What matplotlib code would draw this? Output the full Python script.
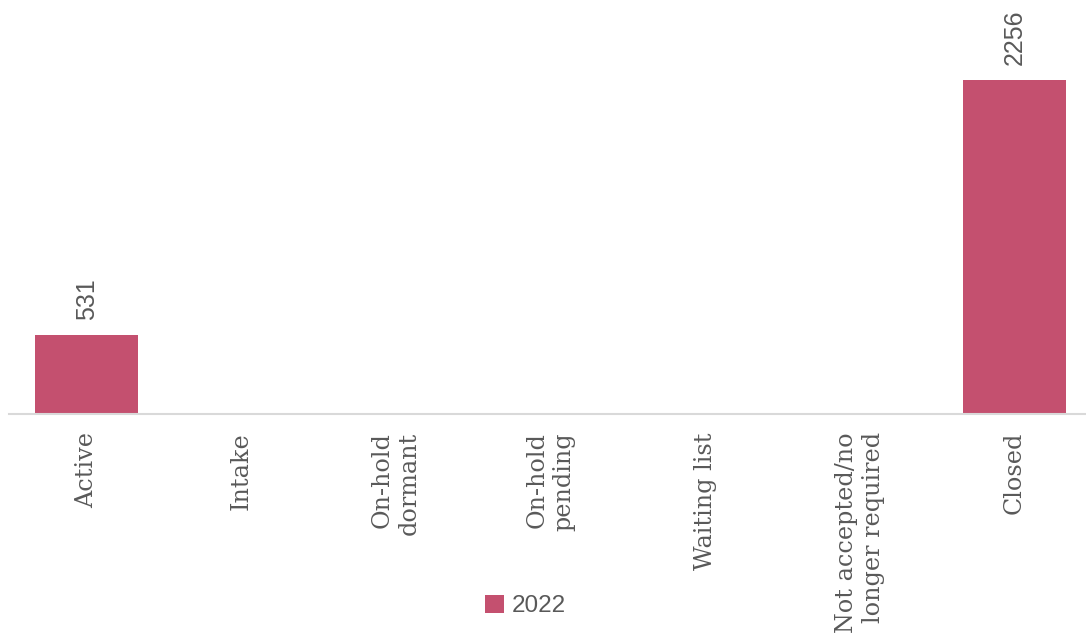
import numpy as np
import matplotlib.pyplot as plt

# Categories and values
categories = ['Active', 'Intake', 'On-hold\ndormant', 'On-hold\npending',
              'Waiting list', 'Not accepted/no\nlonger required', 'Closed']
values_2022 = [531, 0, 0, 0, 0, 0, 2256]

bar_color = '#C4506F'
text_color = '#595959'

W, H = 1086, 641
fig = plt.figure(figsize=(W / 100, H / 100), dpi=100)
# axes in pixel terms: baseline at y=414, top at y=0
left, right = 9.2, 9.2 + 7 * 154.67
ax = fig.add_axes([left / W, (H - 414) / H, (right - left) / W, 414 / H])

x = np.arange(len(categories))
bars = ax.bar(x, values_2022, width=0.666, color=bar_color, label='2022')

# value labels on the non-zero bars
for xi, v in zip(x, values_2022):
    if v > 0:
        ax.annotate(str(v), (xi, v), xytext=(0, 11), textcoords='offset points',
                    rotation=90, ha='center', va='bottom', fontsize=18,
                    color=text_color, family='Liberation Sans')

ax.set_xlim(-0.5, len(categories) - 0.5)
ax.set_ylim(0, 2797)
ax.set_xticks(x)
ax.set_xticklabels(categories, rotation=90, fontsize=17.2, color=text_color,
                   family='DejaVu Serif', multialignment='right',
                   linespacing=1.2)
ax.tick_params(axis='x', length=0, pad=13)
ax.set_yticks([])

for side in ['top', 'right', 'left']:
    ax.spines[side].set_visible(False)
ax.spines['bottom'].set_color('#D9D9D9')
ax.spines['bottom'].set_linewidth(1.5)

fig.legend(handles=[bars], labels=['2022'], loc='center',
           bbox_to_anchor=(525 / W, 1 - 606 / H), frameon=False,
           handlelength=0.8, handleheight=0.8, handletextpad=0.3,
           prop={'family': 'Liberation Sans', 'size': 17.5},
           labelcolor=text_color)

fig.savefig('out.png', dpi=100)
